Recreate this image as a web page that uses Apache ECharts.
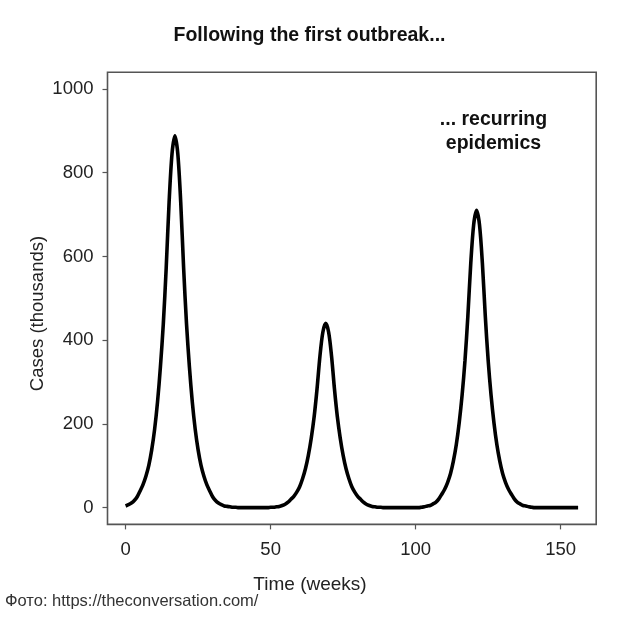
<!DOCTYPE html>
<html>
<head>
<meta charset="utf-8">
<script src="https://cdn.jsdelivr.net/npm/echarts@6/dist/echarts.min.js"></script>
<style>
html,body{margin:0;padding:0;background:#fff;}
#chart{width:620px;height:620px;}
</style>
</head>
<body>
<div id="chart"></div>
<script>
// Weekly cases (thousands), week 0..156
var firstWeek = 0;
var cases = [
  4, 7, 11, 17, 26, 40, 55, 75, 101, 138, 187, 252, 336, 439, 573, 730, 845, 888, 845, 730,
  573, 439, 336, 252, 187, 138, 101, 75, 55, 40, 26, 17, 11, 7, 4, 3, 2, 1, 1,
  0, 0, 0, 0, 0, 0, 0, 0, 0, 0, 0,
  1, 1, 2, 3, 5, 8, 13, 20, 27, 37, 50, 69, 93, 125, 166, 217, 284, 362, 419, 440,
  419, 362, 284, 217, 166, 125, 93, 69, 50, 37, 27, 20, 13, 8, 5, 3, 2, 1, 1,
  0, 0, 0, 0, 0, 0, 0, 0, 0, 0, 0, 0, 0,
  1, 2, 4, 5, 9, 13, 21, 32, 44, 60, 81, 111, 150, 202, 268, 351, 458, 584, 676, 710,
  676, 584, 458, 351, 268, 202, 150, 111, 81, 60, 44, 32, 21, 13, 9, 5, 4, 2, 1,
  0, 0, 0, 0, 0, 0, 0, 0, 0, 0, 0, 0, 0, 0, 0, 0
];
var xTicks = [0, 50, 100, 150];
var yTicks = [0, 200, 400, 600, 800, 1000];
var titleText = 'Following the first outbreak...';
var noteLines = ['... recurring', 'epidemics'];
var xName = 'Time (weeks)';
var yName = 'Cases (thousands)';
var credit = 'Фото: https://theconversation.com/';

var seriesData = cases.map(function (v, i) { return [firstWeek + i, v]; });
var FONT = '"Liberation Sans", Arial, sans-serif';
var plain = function (v) { return String(v); };
var chart = echarts.init(document.getElementById('chart'), null, {renderer: 'canvas'});
chart.setOption({
  animation: false,
  backgroundColor: '#ffffff',
  grid: {
    left: 107.5, right: 23.8, top: 72.2, bottom: 95.6,
    show: true, borderColor: '#555', borderWidth: 1.6, backgroundColor: 'transparent'
  },
  xAxis: {
    type: 'value', min: -6.24, max: 162.24,
    axisLine: {show: false, onZero: false},
    splitLine: {show: false},
    axisTick: {show: true, customValues: xTicks, length: 5, inside: false, lineStyle: {color: '#555', width: 1.2}},
    axisLabel: {customValues: xTicks, formatter: plain, margin: 16, fontSize: 18.5, color: '#222', fontFamily: FONT}
  },
  yAxis: {
    type: 'value', min: -40, max: 1040,
    axisLine: {show: false, onZero: false},
    splitLine: {show: false},
    axisTick: {show: true, customValues: yTicks, length: 5, inside: false, lineStyle: {color: '#555', width: 1.2}},
    axisLabel: {customValues: yTicks, formatter: plain, margin: 14, fontSize: 18.5, color: '#222', fontFamily: FONT}
  },
  series: [{
    type: 'line',
    data: seriesData,
    showSymbol: false,
    smooth: 0.3,
    lineStyle: {color: '#000', width: 3.6},
    z: 5
  }],
  graphic: [
    {type: 'text', position: [309.5, 35.7], silent: true,
     style: {text: titleText, align: 'center', verticalAlign: 'middle', font: 'bold 19.5px ' + FONT, fill: '#111'}},
    {type: 'text', position: [493.5, 120], silent: true,
     style: {text: noteLines[0], align: 'center', verticalAlign: 'middle', font: 'bold 19.5px ' + FONT, fill: '#111'}},
    {type: 'text', position: [493.5, 143.3], silent: true,
     style: {text: noteLines[1], align: 'center', verticalAlign: 'middle', font: 'bold 19.5px ' + FONT, fill: '#111'}},
    {type: 'text', position: [310, 585], silent: true,
     style: {text: xName, align: 'center', verticalAlign: 'middle', font: '19px ' + FONT, fill: '#222'}},
    {type: 'text', position: [37.6, 313.5], rotation: Math.PI / 2, silent: true,
     style: {text: yName, align: 'center', verticalAlign: 'middle', font: '18.5px ' + FONT, fill: '#222'}},
    {type: 'text', position: [5, 601], silent: true,
     style: {text: credit, align: 'left', verticalAlign: 'middle', font: '16.5px ' + FONT, fill: '#333',
       stroke: '#fff', lineWidth: 3}}
  ]
});
</script>
</body>
</html>
